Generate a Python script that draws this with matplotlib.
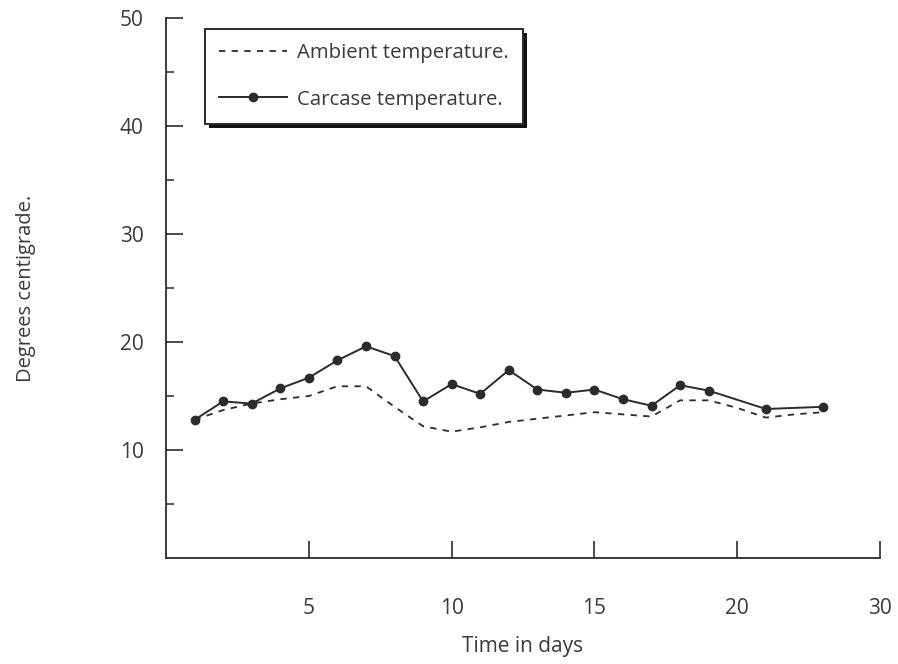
import matplotlib.pyplot as plt
import matplotlib.patheffects as pe
from matplotlib.ticker import FixedLocator

plt.rcParams['font.family'] = ['Open Sans', 'DejaVu Sans']

# daily readings (degrees C)
days_carcase = [1, 2, 3, 4, 5, 6, 7, 8, 9, 10, 11, 12, 13, 14, 15, 16, 17, 18, 19, 21, 23]
carcase_temp = [12.8, 14.5, 14.3, 15.7, 16.7, 18.3, 19.6, 18.7, 14.5, 16.1, 15.2,
                17.4, 15.6, 15.3, 15.6, 14.7, 14.1, 16.0, 15.5, 13.8, 14.0]

days_ambient = [1, 2, 3, 4, 5, 6, 7, 8, 9, 10, 11, 12, 13, 14, 15, 16, 17, 18, 19, 20, 21, 22, 23]
ambient_temp = [12.8, 13.7, 14.3, 14.7, 15.0, 15.9, 15.9, 14.0, 12.2, 11.7, 12.1, 12.6,
                12.9, 13.2, 13.5, 13.3, 13.1, 14.6, 14.6, 13.9, 13.0, 13.3, 13.5]

x_ticks = [5, 10, 15, 20, 25]
x_tick_labels = ['5', '10', '15', '20', '30']
y_ticks = [10, 20, 30, 40, 50]

INK = '#2b2b2b'
TEXT = '#3a3a3a'

fig = plt.figure(figsize=(8.98, 6.64), dpi=100)
ax = fig.add_axes([0.1849, 0.1596, 0.7951, 0.8133])

ax.plot(days_ambient, ambient_temp, color=INK, lw=1.3, linestyle=(0, (3.5, 3.5)),
        label='Ambient temperature.')
ax.plot(days_carcase, carcase_temp, color=INK, lw=1.4, marker='o', markersize=6,
        label='Carcase temperature.')

ax.set_xlim(0, 25)
ax.set_ylim(0, 50)

for side in ('top', 'right'):
    ax.spines[side].set_visible(False)
for side in ('left', 'bottom'):
    ax.spines[side].set_color(INK)
    ax.spines[side].set_linewidth(1.3)

ax.set_xticks(x_ticks)
ax.set_xticklabels(x_tick_labels)
ax.set_yticks(y_ticks)
ax.yaxis.set_minor_locator(FixedLocator([5, 15, 25, 35, 45]))
ax.tick_params(axis='both', which='major', direction='in', length=12, width=1.2,
               color=INK, labelcolor=TEXT, labelsize=15)
ax.tick_params(axis='x', which='major', pad=29)
ax.tick_params(axis='y', which='major', pad=16)
ax.tick_params(axis='y', which='minor', direction='in', length=6, width=1.1, color=INK)

ax.set_xlabel('Time in days', fontsize=15, color=TEXT)
ax.xaxis.set_label_coords(0.5, -0.145)
ax.set_ylabel('Degrees centigrade.', fontsize=14.5, color=TEXT)
ax.yaxis.set_label_coords(-0.182, 0.5)

leg = ax.legend(loc='upper left', bbox_to_anchor=(0.0546, 0.98), borderaxespad=0,
                fontsize=14.7, frameon=True, fancybox=False, framealpha=1.0,
                borderpad=0.7, labelspacing=1.3, handlelength=3.3, handletextpad=0.5)
frame = leg.get_frame()
frame.set_facecolor('white')
frame.set_edgecolor(INK)
frame.set_linewidth(1.4)
frame.set_path_effects([pe.SimplePatchShadow(offset=(3, -3), shadow_rgbFace='#111111', alpha=1.0),
                        pe.Normal()])
for t in leg.get_texts():
    t.set_color(TEXT)

fig.savefig('out.png', dpi=100)
